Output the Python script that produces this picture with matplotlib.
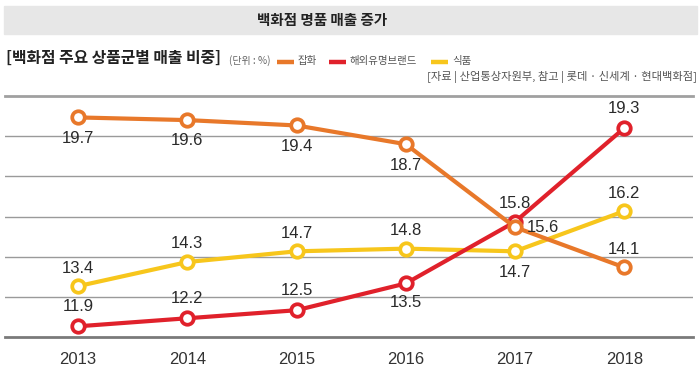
import matplotlib
matplotlib.use('Agg')
import matplotlib.pyplot as plt
from matplotlib.patches import Rectangle

plt.rcParams['font.family'] = ['Noto Sans CJK KR', 'DejaVu Sans']

# data
years = [2013, 2014, 2015, 2016, 2017, 2018]
goods = [19.7, 19.6, 19.4, 18.7, 15.6, 14.1]        # 잡화
luxury = [11.9, 12.2, 12.5, 13.5, 15.8, 19.3]       # 해외유명브랜드
food = [13.4, 14.3, 14.7, 14.8, 14.7, 16.2]         # 식품
series_names = ['잡화', '해외유명브랜드', '식품']

c_orange = '#E8782A'
c_red = '#E0212B'
c_yellow = '#F7C61C'
num_font = ['Liberation Sans Narrow', 'Liberation Sans', 'DejaVu Sans']

fig = plt.figure(figsize=(7, 3.74), dpi=100)

# header band
fig.patches.append(Rectangle((4 / 700, 1 - 34 / 374), 693 / 700, 28 / 374,
                             transform=fig.transFigure, color='#E7E7E7', zorder=0))
fig.text(322 / 700, 1 - 20 / 374, '백화점 명품 매출 증가', ha='center', va='center',
         fontsize=10.5, weight='bold', color='#222222')

fig.text(6 / 700, 1 - 58 / 374, '[백화점 주요 상품군별 매출 비중]', ha='left', va='center',
         fontsize=11.4, weight='bold', color='#222222')
fig.text(229 / 700, 1 - 61 / 374, '(단위 : %)', ha='left', va='center',
         fontsize=7.2, color='#666666')

# legend
legend_x = [(277, 294, 298), (329, 346, 350), (431, 448, 452)]
for (x0, x1, xt), name, col in zip(legend_x, series_names, [c_orange, c_red, c_yellow]):
    fig.add_artist(plt.Line2D([x0 / 700, x1 / 700], [1 - 62 / 374, 1 - 62 / 374],
                              transform=fig.transFigure, color=col, lw=3.2,
                              solid_capstyle='butt'))
    fig.text(xt / 700, 1 - 61 / 374, name, ha='left', va='center', fontsize=7.5, color='#555555')

fig.text(697 / 700, 1 - 77 / 374, '[자료 | 산업통상자원부, 참고 | 롯데 · 신세계 · 현대백화점]',
         ha='right', va='center', fontsize=8.1, color='#555555')

# chart
ax = fig.add_axes([5 / 700, 1 - 337 / 374, 688 / 700, 241 / 374])
ax.set_xlim(2012.33, 2018.63)
ax.set_ylim(11.5, 20.5)
for s in ax.spines.values():
    s.set_visible(False)
ax.set_yticks([])
ax.set_xticks(years)
ax.set_xticklabels([str(y) for y in years], family=num_font, fontsize=12, color='#333333')
ax.tick_params(axis='x', length=0, pad=11)

for g in [13, 14.5, 16, 17.5, 19]:
    ax.axhline(g, color='#9A9A9A', lw=1.0, zorder=1)
ax.axhline(20.5, color='#A0A0A0', lw=2.0, zorder=1, clip_on=False)
ax.axhline(11.5, color='#7A7A7A', lw=2.0, zorder=1, clip_on=False)

marker_kw = dict(marker='o', markersize=9, markerfacecolor='white', markeredgewidth=2.7, lw=3)
ax.plot(years, food, color=c_yellow, zorder=3, **marker_kw)
ax.plot(years, luxury, color=c_red, zorder=4, **marker_kw)
ax.plot(years, goods, color=c_orange, zorder=5, **marker_kw)

# value labels (offsets in points)
goods_off = [(0, -15), (0, -15), (0, -15), (0, -15), (20, 0), (0, 13)]
luxury_off = [(0, 14), (0, 14), (0, 14), (0, -14), (0, 13), (0, 14)]
food_off = [(0, 13), (0, 13), (0, 13), (0, 13), (0, -15), (0, 13)]
for vals, offs in [(goods, goods_off), (luxury, luxury_off), (food, food_off)]:
    for x, v, off in zip(years, vals, offs):
        ax.annotate(f'{v:.1f}', (x, v), xytext=off, textcoords='offset points',
                    ha='center', va='center', fontsize=12, family=num_font,
                    color='#2A2A2A', zorder=6)

fig.savefig('out.png', dpi=100)
